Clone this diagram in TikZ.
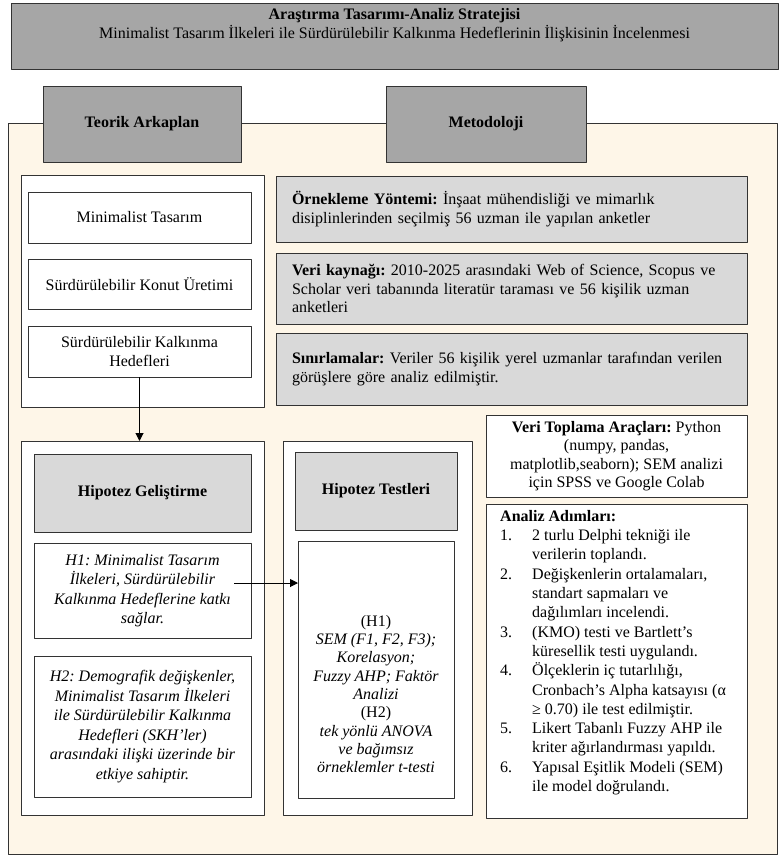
\documentclass[tikz,border=0pt]{standalone}
\usepackage{fontspec}
\setmainfont{Liberation Serif}
\usetikzlibrary{arrows.meta}
\definecolor{headgray}{HTML}{A6A6A6}
\definecolor{boxgray}{HTML}{D9D9D9}
\definecolor{cream}{HTML}{FEF6E8}
\frenchspacing
\begin{document}
\begin{tikzpicture}[x=1pt,y=-1pt,line join=bevel,>={Triangle[length=8pt,width=8pt]},
    font=\fontsize{16}{18.5}\selectfont]
  \tikzstyle{box}=[draw=black!80,line width=1pt,inner sep=0pt,outer sep=0pt]
  \tikzstyle{headbox}=[box,fill=headgray,font=\fontsize{16}{18.5}\selectfont\bfseries]
  \tikzstyle{subhead}=[box,fill=boxgray,font=\fontsize{16}{18.5}\selectfont\bfseries]
  \tikzstyle{infobox}=[box,fill=boxgray,align=left,text width=439pt,inner xsep=16pt]
  \tikzstyle{plain}=[box,fill=white,align=center]
  \tikzstyle{hyp}=[plain,font=\fontsize{16}{19.5}\selectfont\itshape]
  \useasboundingbox (0,0) rectangle (781,857);

  \node[headbox,minimum width=767pt,minimum height=66pt] (title) at (394.5,36) {};
  \node[align=center] (title_t) at (394.5,25)
    {\textbf{Araştırma Tasarımı-Analiz Stratejisi}\\
     Minimalist Tasarım İlkeleri ile Sürdürülebilir Kalkınma Hedeflerinin İlişkisinin İncelenmesi};

  \draw[box,fill=cream] (8,123) rectangle (777,854);
  \node[headbox,minimum width=198pt,minimum height=76pt] (TA) at (142,124) {Teorik Arkaplan};
  \node[headbox,minimum width=200pt,minimum height=76pt] (M) at (486,124) {Metodoloji};

  % teorik arkaplan
  \node[plain,minimum width=243pt,minimum height=232pt] (T) at (142.5,291) {};
  \node[plain,minimum width=223pt,minimum height=51pt] (T_1) at (139.5,217.5) {Minimalist Tasarım};
  \node[plain,minimum width=223pt,minimum height=50pt] (T_2) at (139.5,284) {Sürdürülebilir Konut Üretimi};
  \node[plain,minimum width=223pt,minimum height=51pt] (T_3) at (139.5,351.5) {Sürdürülebilir Kalkınma\\Hedefleri};

  % metodoloji
  \node[infobox,minimum height=66pt] (M_1) at (511.5,209)
    {\textbf{Örnekleme Yöntemi:} İnşaat mühendisliği ve mimarlık\\
     disiplinlerinden seçilmiş 56 uzman ile yapılan anketler};
  \node[infobox,minimum height=71pt] (M_2) at (511.5,288.5)
    {\textbf{Veri kaynağı:} 2010-2025 arasındaki Web of Science, Scopus ve\\
     Scholar veri tabanında literatür taraması ve 56 kişilik uzman\\
     anketleri};
  \node[infobox,minimum height=72pt] (M_3) at (511.5,369)
    {\textbf{Sınırlamalar:} Veriler 56 kişilik yerel uzmanlar tarafından verilen\\
     görüşlere göre analiz edilmiştir.};
  \node[plain,minimum width=261pt,minimum height=82pt] (M_4) at (616.5,456)
    {\textbf{Veri Toplama Araçları:} Python\\(numpy, pandas,\\
     matplotlib,seaborn); SEM analizi\\için SPSS ve Google Colab};
  \node[plain,minimum width=261pt,minimum height=314pt] (M_5) at (616.5,661) {};
  \node[anchor=north west,inner sep=0pt,align=left,font=\fontsize{16}{19.3}\selectfont] (M_5t) at (500,510)
    {\textbf{Analiz Adımları:}\\
     \makebox[32pt][l]{1.}2 turlu Delphi tekniği ile\\
     \hspace*{32pt}verilerin toplandı.\\
     \makebox[32pt][l]{2.}Değişkenlerin ortalamaları,\\
     \hspace*{32pt}standart sapmaları ve\\
     \hspace*{32pt}dağılımları incelendi.\\
     \makebox[32pt][l]{3.}(KMO) testi ve Bartlett’s\\
     \hspace*{32pt}küresellik testi uygulandı.\\
     \makebox[32pt][l]{4.}Ölçeklerin iç tutarlılığı,\\
     \hspace*{32pt}Cronbach’s Alpha katsayısı (α\\
     \hspace*{32pt}≥ 0.70) ile test edilmiştir.\\
     \makebox[32pt][l]{5.}Likert Tabanlı Fuzzy AHP ile\\
     \hspace*{32pt}kriter ağırlandırması yapıldı.\\
     \makebox[32pt][l]{6.}Yapısal Eşitlik Modeli (SEM)\\
     \hspace*{32pt}ile model doğrulandı.};

  % hipotezler
  \node[plain,minimum width=243pt,minimum height=374pt] (H) at (142.5,628) {};
  \node[subhead,minimum width=217pt,minimum height=78pt] (H_0) at (142.5,493) {Hipotez Geliştirme};
  \node[hyp,minimum width=217pt,minimum height=95pt] (H_1) at (142.5,590.5)
    {H1: Minimalist Tasarım\\İlkeleri, Sürdürülebilir\\Kalkınma Hedeflerine katkı\\sağlar.};
  \node[hyp,minimum width=217pt,minimum height=141pt] (H_2) at (142.5,726.5)
    {H2: Demografik değişkenler,\\Minimalist Tasarım İlkeleri\\ile Sürdürülebilir Kalkınma\\
     Hedefleri (SKH’ler)\\arasındaki ilişki üzerinde bir\\etkiye sahiptir.};

  \node[plain,minimum width=189pt,minimum height=374pt] (HT) at (377.5,628) {};
  \node[subhead,minimum width=162pt,minimum height=78pt] (HT_1) at (376,491) {Hipotez Testleri};
  \node[plain,minimum width=156pt,minimum height=257pt] (HT_2) at (376,669.5) {};
  \node[align=center,font=\fontsize{16}{18.3}\selectfont\itshape] (HT_2t) at (376,694)
    {\textup{(H1)}\\SEM (F1, F2, F3);\\Korelasyon;\\Fuzzy AHP; Faktör\\Analizi\\
     \textup{(H2)}\\tek yönlü ANOVA\\ve bağımsız\\örneklemler t-testi};

  \coordinate (h1_out) at (234,583);
  \path[line width=1pt] (T_3) edge [->] (T_3 |- H.north)
        (h1_out) edge [->] (h1_out -| HT_2.west);
\end{tikzpicture}
\end{document}
